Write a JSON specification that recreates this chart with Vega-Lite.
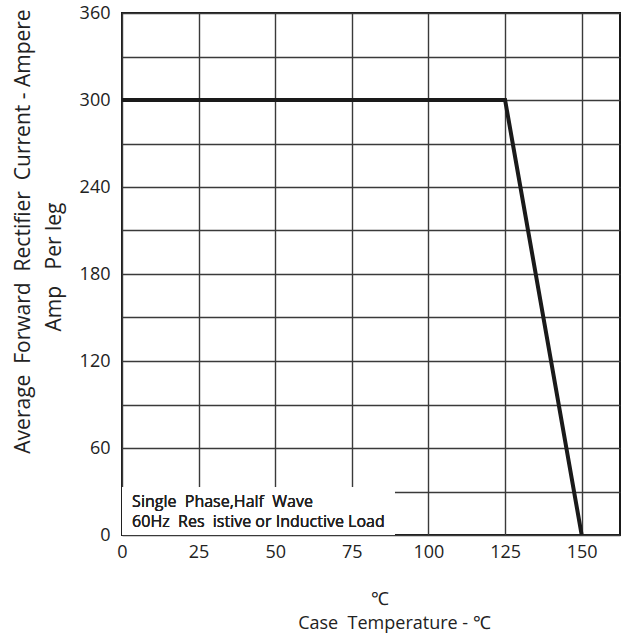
{
  "$schema": "https://vega.github.io/schema/vega-lite/v6.json",
  "width": 498,
  "height": 522,
  "autosize": {"type": "none"},
  "padding": {"left": 122, "top": 13, "right": 4, "bottom": 103},
  "background": "white",
  "config": {
    "font": "Open Sans",
    "view": {"stroke": "#1a1a1a", "strokeWidth": 2},
    "axis": {
      "grid": true,
      "gridColor": "#3a3a3a",
      "gridWidth": 1.4,
      "gridOpacity": 1,
      "domain": false,
      "ticks": false,
      "tickSize": 0,
      "labelFontSize": 18,
      "labelColor": "#222222",
      "labelFont": "Open Sans",
      "titleFont": "Open Sans",
      "titleFontSize": 21,
      "titleFontWeight": "normal",
      "titleColor": "#222222"
    }
  },
  "data": {
    "values": [
      {"temp": 0, "amp": 300},
      {"temp": 125, "amp": 300},
      {"temp": 150, "amp": 0}
    ]
  },
  "layer": [
    {
      "mark": {"type": "rect", "fill": "white", "stroke": null},
      "encoding": {
        "x": {"datum": 0, "type": "quantitative"},
        "x2": {"datum": 89},
        "y": {"datum": 0, "type": "quantitative"},
        "y2": {"datum": 33}
      }
    },
    {
      "mark": {"type": "line", "color": "#1a1a1a", "strokeWidth": 4, "clip": true},
      "encoding": {
        "x": {
          "field": "temp",
          "type": "quantitative",
          "scale": {"domain": [0, 162.5], "nice": false, "zero": false},
          "axis": {
            "values": [0, 12.5, 25, 37.5, 50, 62.5, 75, 87.5, 100, 112.5, 125, 137.5, 150, 162.5],
            "labelExpr": "datum.value % 25 === 0 ? datum.label : ''",
            "labelPadding": 8,
            "labelFlush": false,
            "labelOverlap": false,
            "title": ["℃\u00a0\u00a0\u00a0\u00a0\u00a0\u00a0\u200b", "Case\u00a0\u00a0Temperature - ℃"],
            "titleX": 272,
            "titleY": 69,
            "titleAnchor": null,
            "titleAlign": "center",
            "titleBaseline": "alphabetic",
            "titleLineHeight": 24,
            "titleFontSize": 18
          }
        },
        "y": {
          "field": "amp",
          "type": "quantitative",
          "scale": {"domain": [0, 360], "nice": false},
          "axis": {
            "values": [0, 30, 60, 90, 120, 150, 180, 210, 240, 270, 300, 330, 360],
            "labelExpr": "datum.value % 60 === 0 ? datum.label : ''",
            "labelPadding": 12,
            "labelFlush": false,
            "labelOverlap": false,
            "title": ["Average\u00a0\u00a0Forward\u00a0\u00a0Rectifier\u00a0\u00a0Current - Ampere", "Amp\u00a0\u00a0\u00a0Per\u00a0leg\u00a0\u00a0\u00a0\u00a0\u00a0\u00a0\u00a0\u00a0\u00a0\u00a0\u00a0\u00a0\u00a0\u200b"],
            "titleX": -99,
            "titleY": 218,
            "titleAngle": -90,
            "titleAlign": "center",
            "titleBaseline": "middle",
            "titleLineHeight": 31
          }
        }
      }
    },
    {
      "mark": {"type": "text", "align": "left", "baseline": "alphabetic", "fontSize": 16, "color": "#222222", "font": "Open Sans"},
      "encoding": {
        "x": {"datum": 3.3, "type": "quantitative"},
        "y": {"datum": 19.5, "type": "quantitative"},
        "text": {"value": "Single\u00a0\u00a0Phase,Half\u00a0\u00a0Wave"}
      }
    },
    {
      "mark": {"type": "text", "align": "left", "baseline": "alphabetic", "fontSize": 16, "color": "#222222", "font": "Open Sans"},
      "encoding": {
        "x": {"datum": 3.3, "type": "quantitative"},
        "y": {"datum": 5.5, "type": "quantitative"},
        "text": {"value": "60Hz\u00a0\u00a0Res\u00a0\u00a0istive or Inductive Load"}
      }
    }
  ]
}
